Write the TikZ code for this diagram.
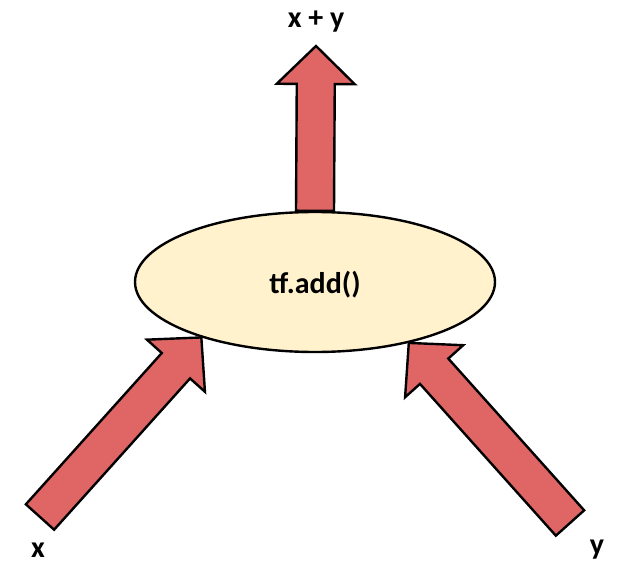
\documentclass[tikz,border=0pt]{standalone}
\usepackage{fontspec}
\setmainfont{Carlito}
\usetikzlibrary{calc,backgrounds,shapes.geometric}

\definecolor{arrowred}{HTML}{E06666}
\definecolor{opyellow}{HTML}{FFF2CC}

\tikzset{
  fatline/.style={draw=black, line width=2.4pt, fill=arrowred},
  opnode/.style={ellipse, draw=black, line width=2.4pt, fill=opyellow,
    minimum width=360pt, minimum height=140pt, inner sep=0pt},
  lbl/.style={font=\fontsize{30}{36}\selectfont\bfseries}
}

% block arrow from #1 (tail) to #2 (tip)
\newcommand{\fatarrow}[2]{%
  \path (#1) coordinate (t) (#2) coordinate (p);
  \coordinate (b) at ($(p)!38pt!(t)$);
  \draw[fatline] ($(t)!19pt!90:(p)$) -- ($(b)!19pt!90:(p)$) -- ($(b)!39pt!90:(p)$)
    -- (p) -- ($(b)!39pt!-90:(p)$) -- ($(b)!19pt!-90:(p)$) -- ($(t)!19pt!-90:(p)$) -- cycle;
}

\begin{document}
\begin{tikzpicture}[x=1pt, y=-1pt]
  \useasboundingbox (0,0) rectangle (632,572);

  % operation
  \node[opnode] (add) at (315,282) {};
  \node[lbl] (op) at (315,285) {tf.add()};

  % inputs and output
  \node[lbl] (sum) at (316,22) {x + y};
  \node[lbl] (xin) at (38,550) {x};
  \node[lbl] (yin) at (597,550) {y};

  \coordinate (xtail) at (40,517);
  \coordinate (ytail) at (570,523);
  \coordinate (sumtip) at (316,46);

  \begin{scope}[on background layer]
    \fatarrow{xtail}{add.206}
    \fatarrow{ytail}{add.327}
    \fatarrow{add.north}{sumtip}
  \end{scope}
\end{tikzpicture}
\end{document}
